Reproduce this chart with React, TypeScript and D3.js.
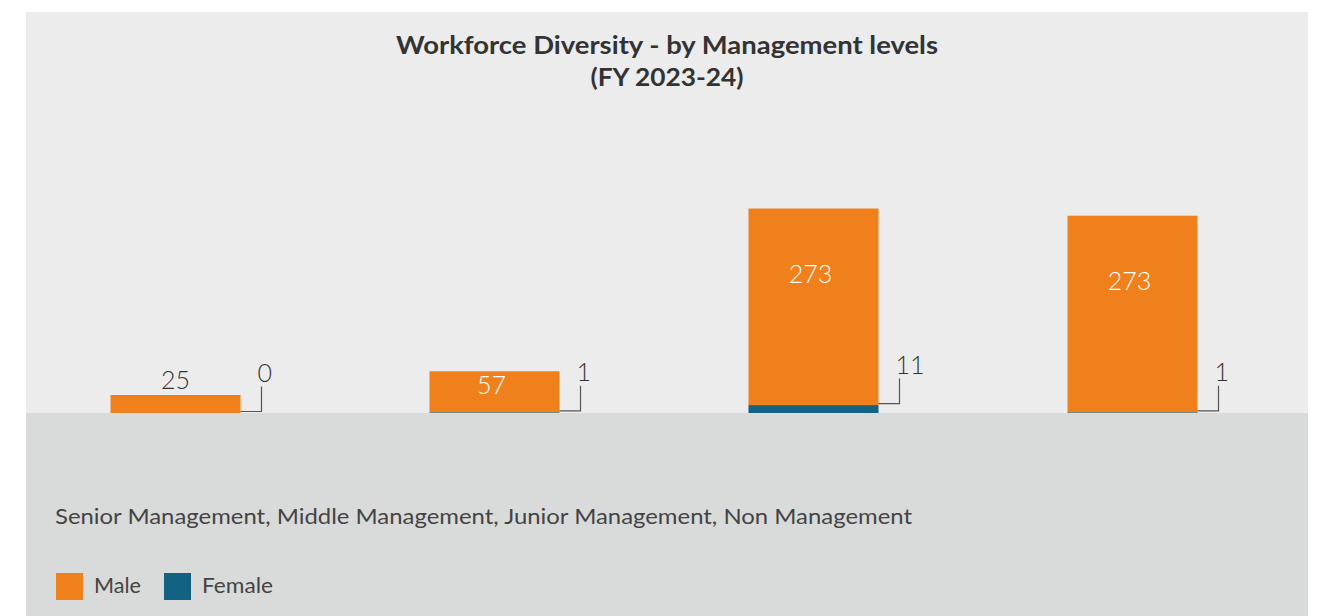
import React from "react";
import * as d3 from "d3";

const categories = ["Senior Management", "Middle Management", "Junior Management", "Non Management"];
const maleValues = [25, 57, 273, 273];
const femaleValues = [0, 1, 11, 1];
const seriesNames = ["Male", "Female"];
const seriesColors = ["#ef801c", "#146283"];
const titleLines = ["Workforce Diversity - by Management levels", "(FY 2023-24)"];

const W = 1326;
const H = 616;
const baseY = 413;

export default function App() {
  const rows = categories.map((c, i) => ({ cat: c, Male: maleValues[i], Female: femaleValues[i] }));
  const stack = d3.stack<any>().keys(["Female", "Male"]);
  const layers = stack(rows);

  const x = d3
    .scaleBand()
    .domain(categories)
    .range([16, 1292])
    .paddingInner(0.5925)
    .paddingOuter(0.29625);
  const maxTotal = d3.max(rows, (r) => r.Male + r.Female) as number;
  const y = d3.scaleLinear().domain([0, maxTotal]).range([baseY, baseY - 0.72 * maxTotal]);

  const bw = x.bandwidth();
  const font = "Lato, 'Noto Sans', sans-serif";
  const valueSize = 25;
  const titleLengths = [542, 153];
  const legendLengths = [47, 71];

  return (
    <svg width={W} height={H} style={{ position: "absolute", left: 0, top: 0, display: "block" }}>
      <rect x={0} y={0} width={W} height={H} fill="#ffffff" />
      <rect x={26} y={12} width={1282} height={H - 12} fill="#ebeceb" />
      <rect x={26} y={baseY} width={1282} height={H - baseY} fill="#d9dbda" />

      {titleLines.map((t, i) => (
        <text
          key={i}
          x={667 - titleLengths[i] / 2}
          y={54 + i * 32}
          textAnchor="start"
          textLength={titleLengths[i]}
          lengthAdjust="spacingAndGlyphs"
          fontFamily={font}
          fontWeight={700}
          fontSize={24}
          fill="#333333"
        >
          {t}
        </text>
      ))}

      {layers.map((layer) => (
        <g key={layer.key} fill={layer.key === "Male" ? seriesColors[0] : seriesColors[1]}>
          {layer.map((d, i) => (
            <rect
              key={i}
              x={x(categories[i])}
              y={y(d[1])}
              width={bw}
              height={Math.max(0, y(d[0]) - y(d[1]))}
            />
          ))}
        </g>
      ))}

      {rows.map((r, i) => {
        const x0 = x(r.cat) as number;
        const cx = x0 + bw / 2;
        const top = y(r.Male + r.Female);
        const bottom = y(r.Female);
        const h = bottom - top;
        const inside = h > 30;
        const ly = inside ? top + h * 0.33 + valueSize * 0.38 : top - 6;
        const lineY = y(r.Female) - 1.5;
        const lineX = x0 + bw + 21;
        const vTop = lineY - 25;
        return (
          <g key={i}>
            <text
              x={cx - (inside ? 3 : 0)}
              y={ly}
              textAnchor="middle"
              fontFamily={font}
              fontWeight={300}
              fontSize={valueSize}
              fill={inside ? "#ffffff" : "#333333"}
            >
              {r.Male}
            </text>
            <path
              d={`M${x0 + bw},${lineY}H${lineX}V${vTop}`}
              fill="none"
              stroke="#555555"
              strokeWidth={1.2}
            />
            <text
              x={lineX - 4}
              y={vTop - 5}
              textAnchor="start"
              fontFamily={font}
              fontWeight={300}
              fontSize={valueSize}
              fill="#333333"
            >
              {r.Female}
            </text>
          </g>
        );
      })}

      <text
        x={55}
        y={524}
        textLength={857}
        lengthAdjust="spacingAndGlyphs"
        fontFamily={font}
        fontWeight={400}
        fontSize={22}
        fill="#444444"
      >
        {categories.join(", ")}
      </text>

      {seriesNames.map((s, i) => {
        const lx = 56 + i * 108;
        return (
          <g key={s}>
            <rect x={lx} y={573} width={27} height={27} fill={seriesColors[i]} />
            <text
              x={lx + 38}
              y={593}
              textLength={legendLengths[i]}
              lengthAdjust="spacingAndGlyphs"
              fontFamily={font}
              fontWeight={400}
              fontSize={21}
              fill="#444444"
            >
              {s}
            </text>
          </g>
        );
      })}
    </svg>
  );
}
